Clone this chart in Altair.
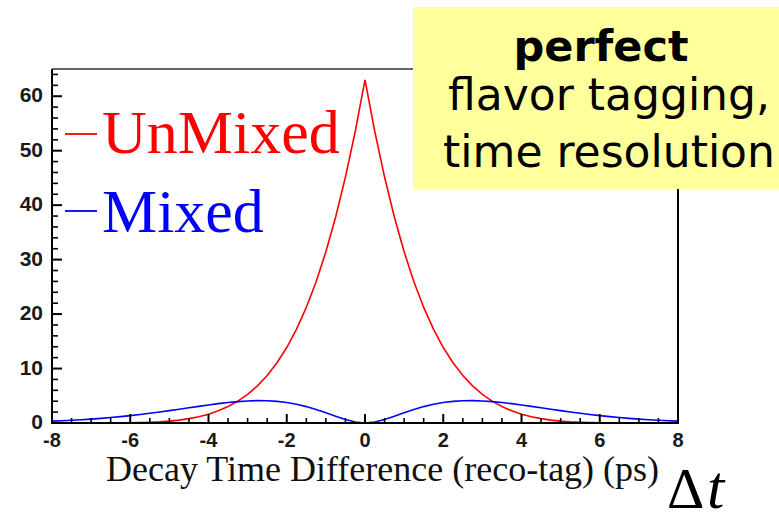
import altair as alt
import pandas as pd

# Decay-time difference (ps), sampled every 0.25 ps
dt = [-8.0, -7.75, -7.5, -7.25, -7.0, -6.75, -6.5, -6.25, -6.0, -5.75, -5.5, -5.25,
      -5.0, -4.75, -4.5, -4.25, -4.0, -3.75, -3.5, -3.25, -3.0, -2.75, -2.5, -2.25,
      -2.0, -1.75, -1.5, -1.25, -1.0, -0.75, -0.5, -0.25, 0.0, 0.25, 0.5, 0.75,
      1.0, 1.25, 1.5, 1.75, 2.0, 2.25, 2.5, 2.75, 3.0, 3.25, 3.5, 3.75,
      4.0, 4.25, 4.5, 4.75, 5.0, 5.25, 5.5, 5.75, 6.0, 6.25, 6.5, 6.75,
      7.0, 7.25, 7.5, 7.75, 8.0]

unmixed = [0.04, 0.04, 0.03, 0.02, 0.01, 0.00, 0.00, 0.01, 0.02, 0.06, 0.12, 0.21,
           0.34, 0.53, 0.80, 1.15, 1.62, 2.24, 3.02, 4.02, 5.27, 6.82, 8.73, 11.06,
           13.86, 17.23, 21.22, 25.93, 31.44, 37.82, 45.16, 53.53, 63.0, 53.53, 45.16, 37.82,
           31.44, 25.93, 21.22, 17.23, 13.86, 11.06, 8.73, 6.82, 5.27, 4.02, 3.02, 2.24,
           1.62, 1.15, 0.80, 0.53, 0.34, 0.21, 0.12, 0.06, 0.02, 0.01, 0.00, 0.00,
           0.01, 0.02, 0.03, 0.04, 0.04]

mixed = [0.34, 0.42, 0.50, 0.60, 0.72, 0.85, 1.00, 1.17, 1.36, 1.56, 1.78, 2.02,
         2.27, 2.52, 2.79, 3.05, 3.31, 3.55, 3.76, 3.93, 4.05, 4.11, 4.09, 3.97,
         3.76, 3.44, 3.01, 2.48, 1.88, 1.25, 0.66, 0.19, 0.0, 0.19, 0.66, 1.25,
         1.88, 2.48, 3.01, 3.44, 3.76, 3.97, 4.09, 4.11, 4.05, 3.93, 3.76, 3.55,
         3.31, 3.05, 2.79, 2.52, 2.27, 2.02, 1.78, 1.56, 1.36, 1.17, 1.00, 0.85,
         0.72, 0.60, 0.50, 0.42, 0.34]

series_names = ["UnMixed", "Mixed"]
series_colors = ["#ff0000", "#0000ff"]

# axis ticks and their labels
x_major = [-8, -6, -4, -2, 0, 2, 4, 6, 8]
x_labels = ["-8", "-6", "-4", "-2", "0", "2", "4", "6", "8"]
x_minor = [-7.5, -7, -6.5, -5.5, -5, -4.5, -3.5, -3, -2.5, -1.5, -1, -0.5,
           0.5, 1, 1.5, 2.5, 3, 3.5, 4.5, 5, 5.5, 6.5, 7, 7.5]
y_major = [0, 10, 20, 30, 40, 50, 60]
y_labels = ["0", "10", "20", "30", "40", "50", "60"]
y_minor = [2, 4, 6, 8, 12, 14, 16, 18, 22, 24, 26, 28, 32, 34, 36, 38,
           42, 44, 46, 48, 52, 54, 56, 58, 62, 64]

x_title = "Decay Time Difference (reco-tag) (ps)"

W, H = 626, 354

curves = pd.DataFrame({
    "dt": dt * 2,
    "rate": unmixed + mixed,
    "series": ["UnMixed"] * len(dt) + ["Mixed"] * len(dt),
})

x_scale = alt.Scale(domain=[-8, 8], nice=False, zero=False)
y_scale = alt.Scale(domain=[0, 65], nice=False)

label_font = "Liberation Sans"
serif = "Liberation Serif"

lines = alt.Chart(curves).mark_line(strokeWidth=1.6, clip=True).encode(
    x=alt.X("dt:Q", scale=x_scale, axis=None),
    y=alt.Y("rate:Q", scale=y_scale, axis=None),
    color=alt.Color("series:N", scale=alt.Scale(domain=series_names, range=series_colors), legend=None),
    order=alt.Order("dt:Q"),
)

# axis lines (left and bottom) and the plain frame (top and right)
axis_left = alt.Chart().mark_rule(color="black", strokeWidth=2).encode(
    x=alt.value(0), y=alt.value(0), y2=alt.value(H + 1))
axis_bottom = alt.Chart().mark_rule(color="black", strokeWidth=2).encode(
    x=alt.value(-1), x2=alt.value(W + 1), y=alt.value(H))
frame_top = alt.Chart().mark_rule(color="#333333", strokeWidth=1.5).encode(
    x=alt.value(0), x2=alt.value(W), y=alt.value(0))
frame_right = alt.Chart().mark_rule(color="black", strokeWidth=2).encode(
    x=alt.value(W), y=alt.value(0), y2=alt.value(H))


# inward-pointing ticks, one rule per tick value placed through the shared scales
def x_tick(v, length, width):
    return alt.Chart().mark_rule(color="black", strokeWidth=width).encode(
        x=alt.X(datum=v, type="quantitative", scale=x_scale, axis=None),
        y=alt.value(H - length), y2=alt.value(H))


def y_tick(v, length, width):
    return alt.Chart().mark_rule(color="black", strokeWidth=width).encode(
        y=alt.Y(datum=v, type="quantitative", scale=y_scale, axis=None),
        x=alt.value(0), x2=alt.value(length))


tick_layers = (
    [x_tick(v, 9, 2) for v in x_major]
    + [x_tick(v, 5, 1.6) for v in x_minor]
    + [y_tick(v, 10, 2) for v in y_major]
    + [y_tick(v, 6, 1.6) for v in y_minor]
)

# tick labels
xl = alt.Chart(pd.DataFrame({"xpos": x_major, "lab": x_labels})).mark_text(
    font=label_font, fontSize=20, fontWeight="bold", color="#1a1a1a", align="center", baseline="alphabetic"
).encode(x=alt.X("xpos:Q", scale=x_scale, axis=None), y=alt.value(H + 24), text="lab:N")
yl = alt.Chart(pd.DataFrame({"ypos": y_major, "lab": y_labels})).mark_text(
    font=label_font, fontSize=21, fontWeight="bold", color="#1a1a1a", align="right", baseline="middle"
).encode(y=alt.Y("ypos:Q", scale=y_scale, axis=None), x=alt.value(-9), text="lab:N")

# axis title
xtitle = alt.Chart().mark_text(
    text=x_title, font=serif, fontSize=36, color="#111111", align="left", baseline="alphabetic"
).encode(x=alt.value(54), y=alt.value(H + 58))

# in-plot legend
legend_df = pd.DataFrame({
    "name": series_names,
    "color": series_colors,
    "ly": [65, 142],
    "ty": [84, 163],
})
legend_dash = alt.Chart(legend_df).mark_rule(strokeWidth=1.8).encode(
    x=alt.value(13), x2=alt.value(45),
    y=alt.Y("ly:Q", scale=None),
    color=alt.Color("color:N", scale=None),
)
legend_text = alt.Chart(legend_df).mark_text(
    font=serif, fontSize=62, align="left", baseline="alphabetic"
).encode(
    x=alt.value(50),
    y=alt.Y("ty:Q", scale=None),
    text="name:N",
    color=alt.Color("color:N", scale=None),
)

# yellow note box in the upper right
note_box = alt.Chart().mark_rect(color="#ffff9c").encode(
    x=alt.value(361), x2=alt.value(740), y=alt.value(-62), y2=alt.value(120))
note_df = pd.DataFrame({
    "line": ["perfect", "flavor tagging,", "time resolution"],
    "ty": [-8, 41, 98],
})
note_bold = alt.Chart(note_df.iloc[[0]]).mark_text(
    font="DejaVu Sans", fontSize=43, fontWeight="bold", align="center", baseline="alphabetic", color="black"
).encode(x=alt.value(549), y=alt.Y("ty:Q", scale=None), text="line:N")
note_rest = alt.Chart(note_df.iloc[1:]).mark_text(
    font="DejaVu Sans", fontSize=44, align="center", baseline="alphabetic", color="black"
).encode(x=alt.value(557), y=alt.Y("ty:Q", scale=None), text="line:N")

# Δt symbol
delta = alt.Chart().mark_text(
    text="Δ", font=serif, fontSize=58, align="left", baseline="alphabetic", color="black"
).encode(x=alt.value(615), y=alt.value(439))
tee = alt.Chart().mark_text(
    text="t", font=serif, fontSize=62, fontStyle="italic", align="left", baseline="alphabetic", color="black"
).encode(x=alt.value(655), y=alt.value(439))

chart = alt.layer(
    lines, axis_left, axis_bottom, frame_top, frame_right,
    *tick_layers, xl, yl, xtitle,
    legend_dash, legend_text, note_box, note_bold, note_rest, delta, tee,
).properties(
    width=W, height=H,
    autosize=alt.AutoSizeParams(type="none"),
    padding={"left": 52, "top": 69, "right": 101, "bottom": 103},
    background="white",
).configure_view(stroke=None)

chart.save("out.html", embed_options={"renderer": "svg", "actions": False})
